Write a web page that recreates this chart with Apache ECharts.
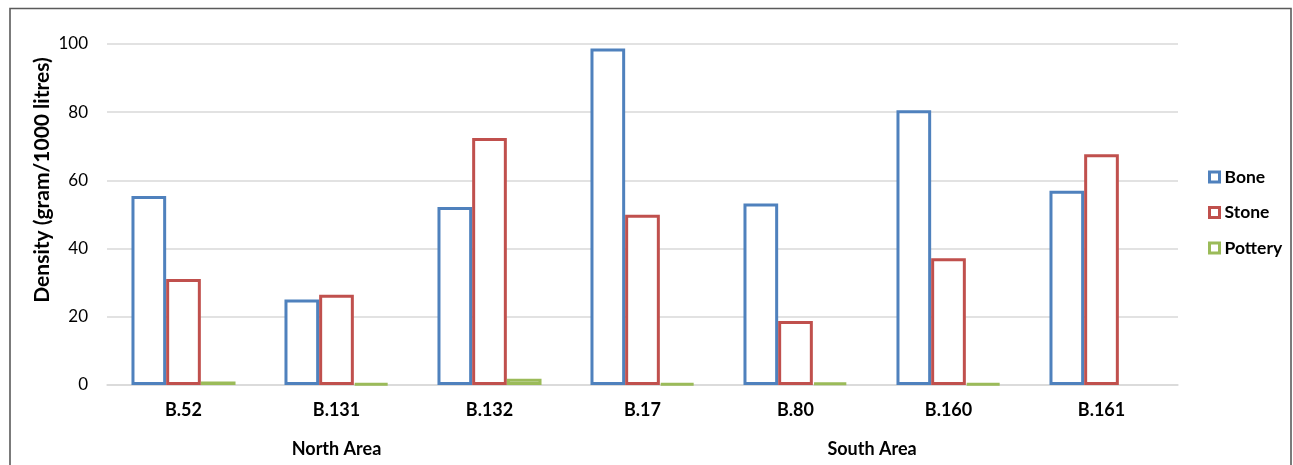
<!DOCTYPE html>
<html>
<head>
<meta charset="utf-8">
<script src="https://cdn.jsdelivr.net/npm/echarts@6/dist/echarts.min.js"></script>
<style>
html,body{margin:0;padding:0;background:#fff;}
#chart{width:1293px;height:465px;}
</style>
</head>
<body>
<div id="chart"></div>
<script>
const categories = ['B.52', 'B.131', 'B.132', 'B.17', 'B.80', 'B.160', 'B.161'];
const bone = [55.4, 25.1, 52.2, 98.7, 53.2, 80.6, 57.0];
const stone = [31.1, 26.5, 72.4, 49.9, 18.8, 37.2, 67.7];
const pottery = [1.0, 0.5, 1.8, 0.5, 0.7, 0.5, null];
const groups = ['North Area', 'South Area'];
const groupSizes = [3, 4];
const yTicks = [0, 20, 40, 60, 80, 100];
const seriesNames = ['Bone', 'Stone', 'Pottery'];
const colors = ['#4F81BD', '#C0504D', '#9BBB59'];

const FONT = 'Lato';
const groupCenters = {};
let acc = 0;
groups.forEach((g, i) => { groupCenters[(acc + groupSizes[i] / 2).toFixed(2)] = g; acc += groupSizes[i]; });

const chart = echarts.init(document.getElementById('chart'));
const seriesData = [bone, stone, pottery];
chart.setOption({
  animation: false,
  backgroundColor: '#ffffff',
  grid: { left: 107, right: 115, top: 44, bottom: 80, containLabel: false },
  legend: {
    orient: 'vertical',
    left: 1208,
    top: 167,
    padding: 0,
    itemWidth: 10,
    itemHeight: 10,
    itemGap: 15.5,
    icon: 'rect',
    data: seriesNames.map((n, i) => ({
      name: n,
      itemStyle: { color: '#ffffff', borderColor: colors[i], borderWidth: 3 }
    })),
    textStyle: { fontFamily: FONT, fontSize: 17.5, fontWeight: 'bold', color: '#000', lineHeight: 20 }
  },
  xAxis: [
    {
      type: 'category',
      data: categories,
      axisLine: { show: true, lineStyle: { color: '#D9D9D9', width: 1.5 } },
      axisTick: { show: false },
      axisLabel: { fontFamily: FONT, fontSize: 18, fontWeight: 'bold', color: '#000', margin: 16 }
    },
    {
      type: 'value',
      position: 'bottom',
      min: 0,
      max: categories.length,
      interval: 0.5,
      axisLine: { show: false },
      axisTick: { show: false },
      splitLine: { show: false },
      axisLabel: {
        fontFamily: FONT, fontSize: 18, fontWeight: 'bold', color: '#000', margin: 55,
        showMinLabel: true, showMaxLabel: true, hideOverlap: false,
        formatter: v => groupCenters[Number(v).toFixed(2)] || ''
      }
    }
  ],
  yAxis: {
    type: 'value',
    min: yTicks[0],
    max: yTicks[yTicks.length - 1],
    interval: yTicks[1] - yTicks[0],
    axisLine: { show: false },
    axisTick: { show: false },
    splitLine: { show: true, lineStyle: { color: '#D9D9D9', width: 1.5 } },
    axisLabel: { fontFamily: FONT, fontSize: 17, color: '#000', margin: 19 }
  },
  series: seriesNames.map((n, i) => ({
    name: n,
    type: 'bar',
    xAxisIndex: 0,
    data: seriesData[i],
    barGap: '0%',
    barCategoryGap: '32%',
    itemStyle: { color: '#ffffff', borderColor: colors[i], borderWidth: 3 }
  })),
  graphic: [
    {
      type: 'rect',
      shape: { x: 10, y: 8.5, width: 1281, height: 500 },
      style: { fill: 'none', stroke: '#5a5a5a', lineWidth: 1.6 },
      silent: true
    },
    {
      type: 'text',
      x: 42,
      y: 180,
      rotation: Math.PI / 2,
      style: {
        text: 'Density (gram/1000 litres)',
        fontFamily: FONT, fontSize: 21, fontWeight: 'bold', fill: '#000',
        textAlign: 'center', textVerticalAlign: 'middle'
      },
      silent: true
    }
  ]
});
</script>
</body>
</html>
